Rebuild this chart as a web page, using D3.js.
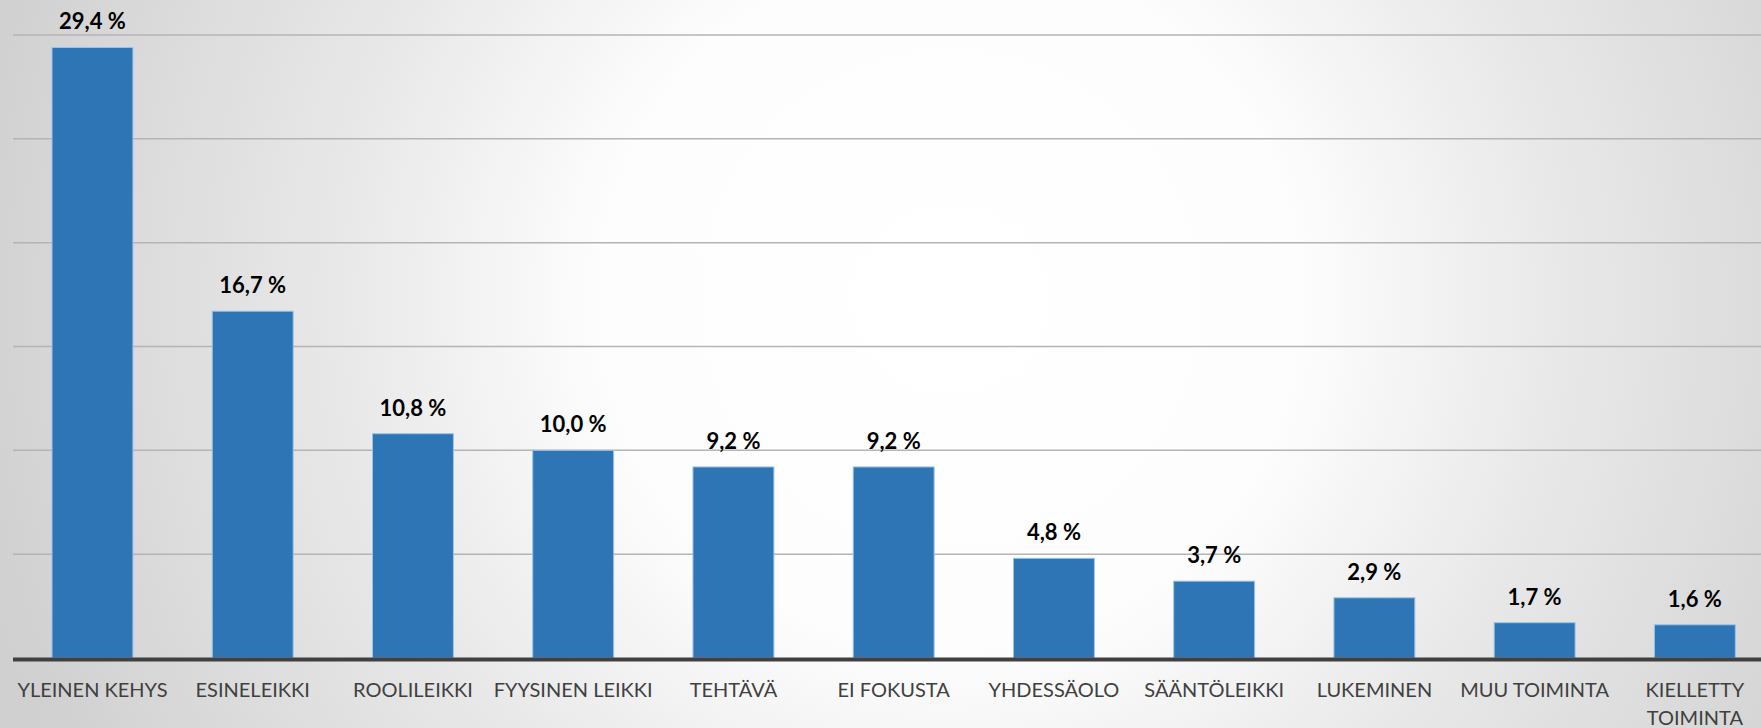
<!DOCTYPE html>
<html>
<head>
<meta charset="utf-8">
<script src="https://cdn.jsdelivr.net/npm/d3@7"></script>
<style>
  html, body { margin: 0; padding: 0; background: #fff; }
  svg { display: block; }
</style>
</head>
<body>
<svg id="chart"></svg>
<script>
WIDTH = 1761
HEIGHT = 728

// data
categories = ["YLEINEN KEHYS", "ESINELEIKKI", "ROOLILEIKKI", "FYYSINEN LEIKKI", "TEHTÄVÄ", "EI FOKUSTA",
              "YHDESSÄOLO", "SÄÄNTÖLEIKKI", "LUKEMINEN", "MUU TOIMINTA", "KIELLETTY TOIMINTA"];
values = [29.4, 16.7, 10.8, 10.0, 9.2, 9.2, 4.8, 3.7, 2.9, 1.7, 1.6];
grid_ticks = [0, 5, 10, 15, 20, 25, 30];

var svg = d3.select("#chart")
    .attr("width", WIDTH)
    .attr("height", HEIGHT);

// background: soft radial light in the middle
var defs = svg.append("defs");
var grad = defs.append("radialGradient")
    .attr("id", "bg")
    .attr("gradientUnits", "userSpaceOnUse")
    .attr("cx", 950).attr("cy", 300).attr("r", 1000);
grad.append("stop").attr("offset", 0).attr("stop-color", "#ffffff");
grad.append("stop").attr("offset", 0.35).attr("stop-color", "#fdfdfd");
grad.append("stop").attr("offset", 0.6).attr("stop-color", "#e9e9e9");
grad.append("stop").attr("offset", 1).attr("stop-color", "#d0d0d0");

svg.append("rect")
    .attr("width", WIDTH).attr("height", HEIGHT)
    .attr("fill", "url(#bg)");

var x = d3.scaleBand()
    .domain(categories)
    .range([12.35, 1775])
    .paddingInner(0.495)
    .paddingOuter(0.2475);

var y = d3.scaleLinear().domain([0, 30]).range([658, 35]);

// gridlines
svg.append("g")
    .selectAll("line")
    .data(grid_ticks.slice(1))
    .enter().append("line")
    .attr("x1", 13).attr("x2", WIDTH)
    .attr("y1", d => y(d)).attr("y2", d => y(d))
    .attr("stroke", "#b4b4b4")
    .attr("stroke-width", 1.5);

// bars
svg.append("g")
    .selectAll("rect")
    .data(values)
    .enter().append("rect")
    .attr("x", (d, i) => x(categories[i]))
    .attr("y", d => y(d))
    .attr("width", x.bandwidth())
    .attr("height", d => y(0) - y(d))
    .attr("fill", "#2e75b6")
    .attr("stroke", "#9dc3e6")
    .attr("stroke-width", 1);

// value labels
svg.append("g")
    .selectAll("text")
    .data(values)
    .enter().append("text")
    .attr("x", (d, i) => x(categories[i]) + x.bandwidth() / 2)
    .attr("y", d => y(d) - 18)
    .attr("text-anchor", "middle")
    .style("font-family", "Lato, 'Open Sans', sans-serif")
    .style("font-weight", "bold")
    .style("font-size", "22px")
    .attr("fill", "#000")
    .text(d => d.toFixed(1).replace(".", ",") + " %");

// x axis line
svg.append("line")
    .attr("x1", 13).attr("x2", WIDTH)
    .attr("y1", y(0) + 1.5).attr("y2", y(0) + 1.5)
    .attr("stroke", "#404040")
    .attr("stroke-width", 4);

// category labels, wrapped when wider than ~170px
var labels = svg.append("g")
    .selectAll("text")
    .data(categories)
    .enter().append("text")
    .attr("text-anchor", "middle")
    .style("font-family", "Lato, 'Open Sans', sans-serif")
    .style("font-size", "20px")
    .attr("fill", "#404040")
    .attr("transform", d => "translate(" + (x(d) + x.bandwidth() / 2) + ",697)");

labels.each(function (d) {
    var t = d3.select(this);
    var words = d.split(" ");
    var lines = [];
    var cur = [];
    var probe = t.append("tspan");
    words.forEach(function (w) {
        var test = cur.concat([w]).join(" ");
        probe.text(test);
        if (probe.node().getComputedTextLength() > 170 && cur.length) {
            lines.push(cur.join(" "));
            cur = [w];
        } else {
            cur.push(w);
        }
    });
    lines.push(cur.join(" "));
    probe.remove();
    lines.forEach(function (l, i) {
        t.append("tspan").attr("x", 0).attr("y", i * 28).text(l);
    });
});
</script>
</body>
</html>
